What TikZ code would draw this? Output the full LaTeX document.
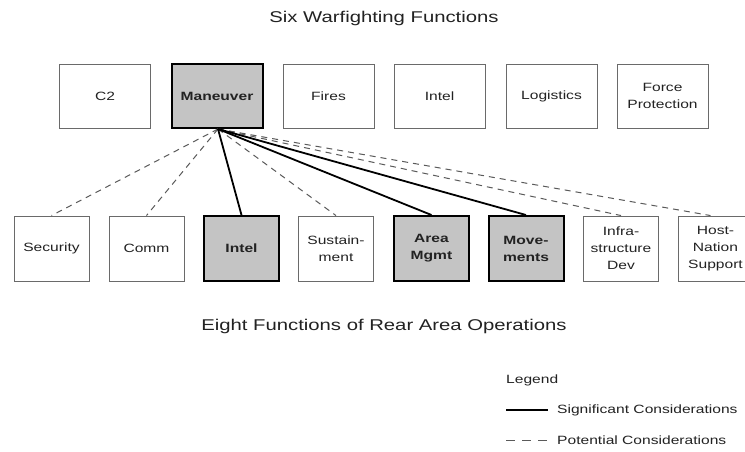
\documentclass[tikz,border=0pt]{standalone}
\usepackage{fontspec}
\setmainfont{Liberation Sans}[FakeStretch=1.3]
\definecolor{boxgray}{HTML}{C4C4C4}
\definecolor{edgegray}{HTML}{6A6A6A}
\definecolor{dashgray}{HTML}{5A5A5A}
\definecolor{txt}{HTML}{222222}
\begin{document}
\begin{tikzpicture}[x=1pt,y=-1pt,
  fbox/.style={draw=edgegray,line width=0.9pt,fill=white,minimum width=91pt,minimum height=64pt,inner sep=0pt,align=center,font=\fontsize{12}{17}\selectfont,text=txt},
  rbox/.style={fbox,minimum width=75pt,minimum height=65pt},
  hot/.style={draw=black,line width=2pt,fill=boxgray,font=\fontsize{12}{17}\selectfont\bfseries},
  sig/.style={draw=black,line width=1.8pt},
  pot/.style={draw=dashgray,line width=1pt,dash pattern=on 6pt off 5pt},
  ttl/.style={font=\fontsize{15.6}{18}\selectfont,text=txt,inner sep=0pt},
  lgd/.style={font=\fontsize{12}{14}\selectfont,text=txt,inner sep=0pt,anchor=west}]
\useasboundingbox (0,0) rectangle (745,451);
\fill[white] (0,0) rectangle (745,451);

\node[ttl] (t1) at (384,18) {Six Warfighting Functions};
\node[ttl] (t2) at (384,326) {Eight Functions of Rear Area Operations};

% top row
\node[fbox] (c2) at (105,96) {C2};
\node[fbox,hot] (man) at (217,96) {Maneuver};
\node[fbox] (fires) at (328.5,96) {Fires};
\node[fbox] (intelT) at (439.5,96) {Intel};
\node[fbox] (log) at (551.5,96) {Logistics};
\node[fbox] (fp) at (662.5,96) {Force\\Protection};

% bottom row
\node[rbox] (sec) at (51.5,248.5) {Security};
\node[rbox] (comm) at (146.5,248.5) {Comm};
\node[rbox,hot] (intelB) at (241.5,248.5) {Intel};
\node[rbox] (sus) at (336,248.5) {Sustain-\\ment};
\node[rbox,hot] (area) at (431.5,248.5) {Area\\Mgmt};
\node[rbox,hot] (mov) at (526,248.5) {Move-\\ments};
\node[rbox] (inf) at (621,248.5) {Infra-\\structure\\Dev};
\node[rbox] (hns) at (715.5,248.5) {Host-\\Nation\\Support};

% connectors
\coordinate (o) at ([xshift=1pt]man.south);
\draw[pot] (o) -- (sec.north);
\draw[pot] (o) -- (comm.north);
\draw[pot] (o) -- (sus.north);
\draw[pot] (o) -- (inf.north);
\draw[pot] (o) -- ([xshift=-5pt]hns.north);
\draw[sig] (o) -- (intelB.north);
\draw[sig] (o) -- (area.north);
\draw[sig] (o) -- (mov.north);

% legend
\node[lgd] (lg) at (506,380) {Legend};
\coordinate (s1) at (506,410);
\coordinate (s2) at (548,410);
\coordinate (p1) at (506,440);
\coordinate (p2) at (548,440);
\draw[sig,line width=1.5pt] (s1) -- (s2);
\draw[pot,dash pattern=on 9pt off 7pt] (p1) -- (p2);
\node[lgd] (ls) at (557,410) {Significant Considerations};
\node[lgd] (lp) at (557,440) {Potential Considerations};
\end{tikzpicture}
\end{document}
